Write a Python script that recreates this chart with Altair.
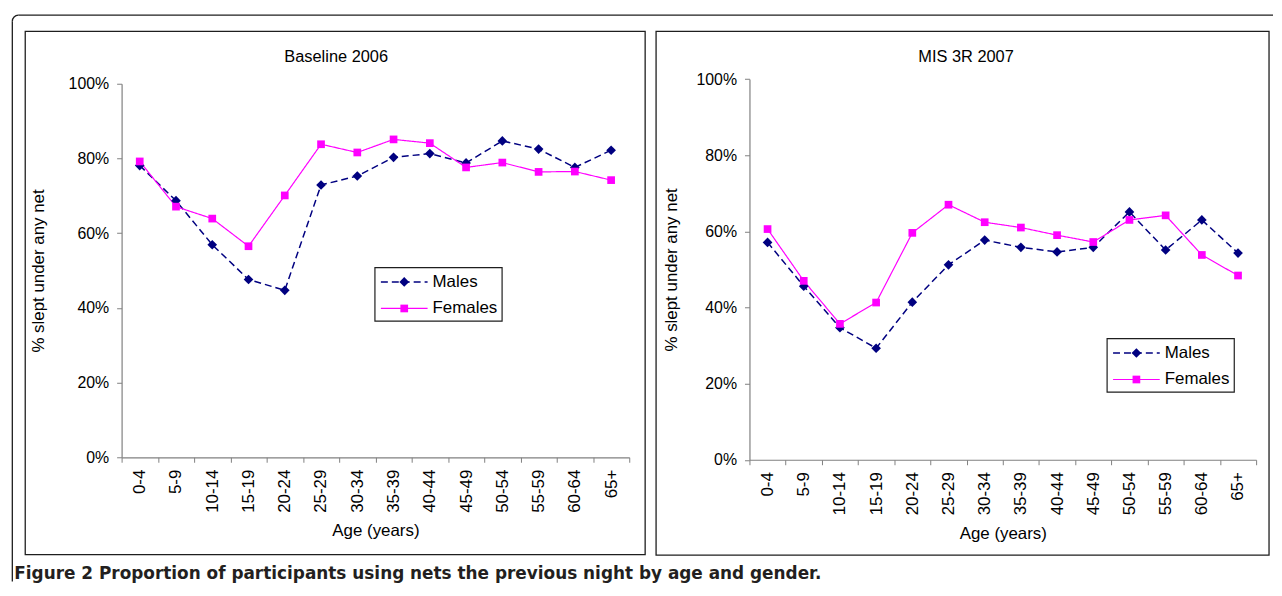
import altair as alt
import pandas as pd

# ---------------- data ----------------
ages = ["0-4", "5-9", "10-14", "15-19", "20-24", "25-29", "30-34",
        "35-39", "40-44", "45-49", "50-54", "55-59", "60-64", "65+"]
series = ["Males", "Females"]
panel_titles = ["Baseline 2006", "MIS 3R 2007"]
y_title = "% slept under any net"
x_title = "Age (years)"
caption = "Figure 2 Proportion of participants using nets the previous night by age and gender."
y_ticks = [0, 20, 40, 60, 80, 100]

males_2006 = [78.1, 68.7, 56.9, 47.6, 44.7, 72.9, 75.3, 80.3, 81.3, 78.8, 84.7, 82.5, 77.6, 82.2]
females_2006 = [79.2, 67.1, 63.9, 56.5, 70.1, 83.8, 81.6, 85.1, 84.1, 77.6, 78.9, 76.4, 76.5, 74.2]
males_2007 = [57.1, 45.6, 34.7, 29.3, 41.4, 51.2, 57.7, 55.8, 54.6, 55.8, 65.1, 55.1, 63.0, 54.3]
females_2007 = [60.6, 47.0, 35.7, 41.3, 59.6, 67.0, 62.4, 61.0, 59.0, 57.2, 63.0, 64.2, 53.8, 48.4]

# ---------------- style / layout ----------------
FONT = "Liberation Sans"
INK = "#1e1e1e"
AXIS_GRAY = "#808080"
colors = ["#000080", "#FF00FF"]
shapes = ["diamond", "square"]
dashes = [[7, 4], [1, 0]]
widths = [1.5, 1.2]

OX, OY = 122, 82          # page position of the plot origin
W, H = 1142, 376          # one shared view holding both panels


def one(text=""):
    return pd.DataFrame({"label": [text]})


def seg(x1, y1, x2, y2):
    return alt.Chart(one()).mark_rule(color=INK, strokeWidth=1.3).encode(
        x=alt.value(x1 - OX), x2=alt.value(x2 - OX),
        y=alt.value(y1 - OY), y2=alt.value(y2 - OY))


def box(x1, y1, x2, y2, sw=1.3):
    return alt.Chart(one()).mark_rect(fillOpacity=0, stroke=INK, strokeWidth=sw).encode(
        x=alt.value(x1 - OX), x2=alt.value(x2 - OX),
        y=alt.value(y1 - OY), y2=alt.value(y2 - OY))


def text(t, x, y, **kw):
    return alt.Chart(one(t)).mark_text(**kw).encode(
        text="label:N", x=alt.value(x - OX), y=alt.value(y - OY))


def panel(males, females, P):
    df = pd.DataFrame({
        "Age": ages + ages,
        "Order": list(range(len(ages))) * 2,
        "Sex": ["Males"] * len(ages) + ["Females"] * len(ages),
        "Pct": males + females,
    })
    stroke_s = alt.Scale(domain=series, range=colors)
    dash_s = alt.Scale(domain=series, range=dashes)
    width_s = alt.Scale(domain=series, range=widths)
    shape_s = alt.Scale(domain=series, range=shapes)

    x = alt.X("Age:N", sort=ages, bandPosition=0.5,
              scale=alt.Scale(type="band", domain=ages, paddingInner=0, paddingOuter=0,
                              range=[P["x0"] - OX, P["x1"] - OX]),
              axis=alt.Axis(title=x_title, orient="bottom", offset=P["y0"] - OY - H,
                            labelAngle=270, tickBand="extent", tickSize=5,
                            labelPadding=7, labelFontSize=17, labelFont=FONT, labelColor="black",
                            labelOverlap=False, domainColor=AXIS_GRAY, tickColor=AXIS_GRAY,
                            domainWidth=1.2, tickWidth=1, grid=False,
                            titleFont=FONT, titleFontSize=17, titleFontWeight="normal",
                            titleColor="black", titleY=66))
    y = alt.Y("Pct:Q",
              scale=alt.Scale(domain=[0, 100], nice=False, range=[P["y0"] - OY, P["y1"] - OY]),
              axis=alt.Axis(values=y_ticks, labelExpr="datum.value + '%'", title=y_title,
                            orient="left", offset=OX - P["x0"],
                            grid=False, tickSize=5, labelPadding=8, labelFontSize=16,
                            labelFont=FONT, labelColor="black", labelFlush=False,
                            domainColor=AXIS_GRAY, tickColor=AXIS_GRAY, domainWidth=1.2,
                            tickWidth=1, titleFont=FONT, titleFontSize=17,
                            titleFontWeight="normal", titleColor="black",
                            titleX=P["ytitle_x"] - P["x0"], titleBaseline="middle"))
    base = alt.Chart(df).encode(x=x, y=y, order=alt.Order("Order:Q"))

    lines = base.mark_line().encode(
        stroke=alt.Stroke("Sex:N", scale=stroke_s, legend=None),
        strokeDash=alt.StrokeDash("Sex:N", scale=dash_s, legend=None),
        strokeWidth=alt.StrokeWidth("Sex:N", scale=width_s, legend=None),
    )
    pts = base.mark_point(filled=True, opacity=1).encode(
        shape=alt.Shape("Sex:N", scale=shape_s, legend=None),
        fill=alt.Fill("Sex:N", scale=stroke_s, legend=None),
        size=alt.Size("Sex:N", scale=alt.Scale(domain=series, range=[95, 60]), legend=None),
    )

    # legend box: a line sample with its marker and the series name, one row per series
    lx, ly = P["legend"]
    legend_parts = [box(lx, ly, lx + 128, ly + 54, sw=1.2)]
    for i, s in enumerate(series):
        row = pd.DataFrame({"Sex": [s]})
        ry = ly + 14.5 + i * 26.7 - OY
        legend_parts += [
            alt.Chart(row).mark_rule().encode(
                x=alt.value(lx + 6 - OX), x2=alt.value(lx + 53 - OX), y=alt.value(ry), y2=alt.value(ry),
                stroke=alt.Stroke("Sex:N", scale=stroke_s, legend=None),
                strokeDash=alt.StrokeDash("Sex:N", scale=dash_s, legend=None),
                strokeWidth=alt.StrokeWidth("Sex:N", scale=width_s, legend=None)),
            alt.Chart(row).mark_point(filled=True, opacity=1).encode(
                x=alt.value(lx + 29.5 - OX), y=alt.value(ry),
                shape=alt.Shape("Sex:N", scale=shape_s, legend=None),
                fill=alt.Fill("Sex:N", scale=stroke_s, legend=None),
                size=alt.Size("Sex:N", scale=alt.Scale(domain=series, range=[70, 50]), legend=None)),
            alt.Chart(row).mark_text(font=FONT, fontSize=17, color="black", align="left",
                                     baseline="middle").encode(
                text="Sex:N", x=alt.value(lx + 58 - OX), y=alt.value(ry)),
        ]
    return alt.layer(lines, pts, *legend_parts)


left = panel(males_2006, females_2006, {
    "x0": 122, "x1": 633, "y0": 458, "y1": 82, "ytitle_x": 38, "legend": (377, 267)})
right = panel(males_2007, females_2007, {
    "x0": 754, "x1": 1264, "y0": 460.5, "y1": 77.3, "ytitle_x": 676, "legend": (1114, 338.5)})

decor = [
    seg(12, 19, 12, 583),                      # outer frame, left side
    seg(18, 13, 1281, 13),                     # outer frame, top side
    alt.Chart(one()).mark_arc(theta=4.712389, theta2=6.283185, radius=6.65, radius2=5.35,
                              color=INK).encode(x=alt.value(18 - OX), y=alt.value(19 - OY)),
    box(25, 29.3, 649, 556),
    box(660, 29.3, 1277, 556.5),
    text(panel_titles[0], 338, 55, font=FONT, fontSize=16.5, color="black", align="center", baseline="middle"),
    text(panel_titles[1], 972, 55, font=FONT, fontSize=16.5, color="black", align="center", baseline="middle"),
    text(caption, 14, 575.5, font="DejaVu Sans", fontSize=17, fontWeight="bold", color="#231F20",
         align="left", baseline="middle"),
]

chans = ["x", "y", "fill", "shape", "size", "stroke", "strokeDash", "strokeWidth"]
chart = alt.layer(*decor, left, right).resolve_scale(
    **{c: "independent" for c in chans}
).resolve_axis(x="independent", y="independent").properties(
    width=W, height=H,
    padding={"left": 3.35, "top": 4.35, "right": 0, "bottom": 0}
).configure_view(stroke=None)

chart.save("out.html", embed_options={"renderer": "svg", "actions": False})
